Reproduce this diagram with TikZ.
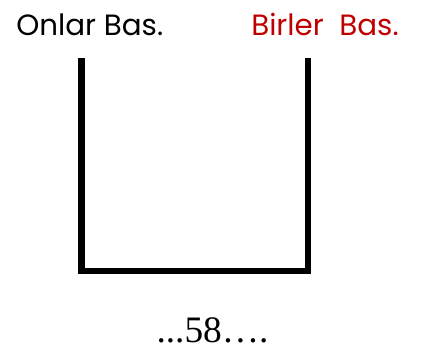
\documentclass[tikz,border=0pt]{standalone}
\usepackage{fontspec}
\setmainfont{Liberation Serif}
\newfontfamily\gothic{Poppins}
\definecolor{darkred}{RGB}{192,0,0}
\begin{document}
\begin{tikzpicture}[x=0.75pt,y=-0.75pt,
  label/.style={font=\gothic\fontsize{22}{24}\selectfont, inner sep=0pt, anchor=base west},
  wall/.style={line width=5pt, line join=miter}]
\useasboundingbox (0,0) rectangle (428,354);
\node[label] (onlar) at (16,35) {Onlar Bas.};
\node[label, text=darkred] (birler) at (251,35) {Birler\ \ Bas.};
\coordinate (lt) at (81.5,58);
\coordinate (lb) at (81.5,271);
\coordinate (rb) at (308,271);
\coordinate (rt) at (308,58);
\draw[wall] (lt) -- (lb) -- (rb) -- (rt);
\node[font=\fontsize{28}{30}\selectfont, inner sep=0pt, anchor=base] (num) at (212.5,342) {...58\ldots.};
\end{tikzpicture}
\end{document}
